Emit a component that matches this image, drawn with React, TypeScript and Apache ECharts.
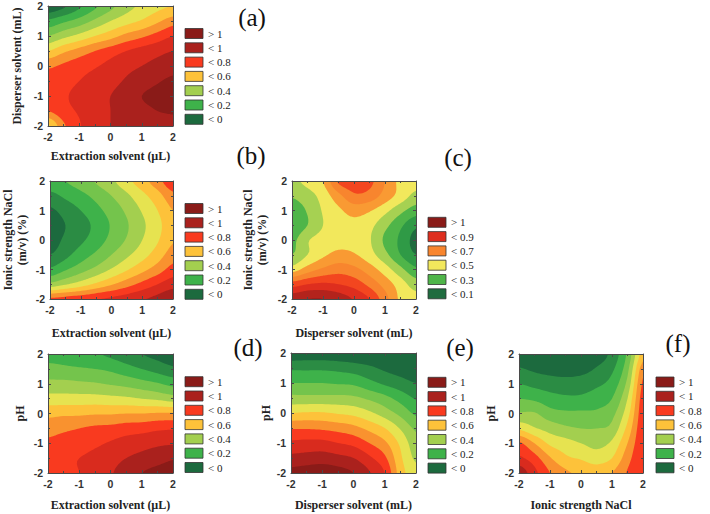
import React, { useEffect, useRef } from "react";
import * as echarts from "echarts";

// grid node coordinates (both axes), coded units
const GRID_COORDS = [-2, -1.5, -1, -0.5, 0, 0.5, 1, 1.5, 2];
// contour levels (band k>=1 is the region where value >= LEVELS[k-1])
const LEVELS = [0, 0.1, 0.2, 0.3, 0.4, 0.5, 0.6, 0.7, 0.8, 0.9, 1.0];

// Response values. Rows: y = 2 (top) ... y = -2 (bottom); columns: x = -2 ... 2
const Z_A = [
  [-0.08, -0.02, 0.08, 0.18, 0.27, 0.36, 0.42, 0.47, 0.5],
  [0.12, 0.18, 0.24, 0.32, 0.4, 0.46, 0.51, 0.58, 0.65],
  [0.3, 0.37, 0.43, 0.5, 0.56, 0.63, 0.68, 0.74, 0.8],
  [0.5, 0.58, 0.64, 0.7, 0.75, 0.8, 0.84, 0.87, 0.9],
  [0.68, 0.72, 0.76, 0.79, 0.83, 0.87, 0.9, 0.93, 0.96],
  [0.74, 0.77, 0.8, 0.83, 0.87, 0.91, 0.95, 0.99, 1.02],
  [0.75, 0.79, 0.82, 0.86, 0.9, 0.94, 1.0, 1.03, 1.05],
  [0.7, 0.77, 0.81, 0.85, 0.9, 0.93, 0.97, 1.0, 1.01],
  [0.48, 0.68, 0.79, 0.85, 0.9, 0.93, 0.95, 0.96, 0.97],
];
const Z_B = [
  [0.16, 0.2, 0.25, 0.31, 0.38, 0.47, 0.56, 0.66, 0.78],
  [0.07, 0.12, 0.17, 0.23, 0.3, 0.38, 0.47, 0.56, 0.67],
  [-0.02, 0.04, 0.1, 0.17, 0.24, 0.32, 0.41, 0.5, 0.6],
  [-0.07, 0.0, 0.05, 0.13, 0.21, 0.29, 0.38, 0.47, 0.57],
  [-0.05, 0.02, 0.08, 0.15, 0.23, 0.31, 0.4, 0.49, 0.59],
  [0.0, 0.07, 0.15, 0.22, 0.3, 0.38, 0.46, 0.55, 0.65],
  [0.12, 0.19, 0.26, 0.33, 0.41, 0.49, 0.57, 0.65, 0.74],
  [0.33, 0.39, 0.45, 0.52, 0.59, 0.66, 0.73, 0.8, 0.86],
  [0.72, 0.74, 0.76, 0.79, 0.82, 0.85, 0.89, 0.93, 0.98],
];
const Z_C = [
  [0.38, 0.43, 0.5, 0.72, 0.76, 0.73, 0.6, 0.47, 0.44],
  [0.31, 0.36, 0.44, 0.57, 0.68, 0.66, 0.56, 0.46, 0.37],
  [0.24, 0.31, 0.41, 0.48, 0.54, 0.51, 0.43, 0.33, 0.25],
  [0.22, 0.3, 0.4, 0.45, 0.47, 0.43, 0.33, 0.22, 0.12],
  [0.27, 0.39, 0.44, 0.46, 0.46, 0.41, 0.28, 0.18, 0.06],
  [0.3, 0.4, 0.48, 0.53, 0.51, 0.44, 0.33, 0.2, 0.1],
  [0.45, 0.55, 0.62, 0.66, 0.63, 0.55, 0.45, 0.33, 0.22],
  [0.75, 0.8, 0.82, 0.8, 0.76, 0.67, 0.56, 0.45, 0.35],
  [0.96, 1.0, 1.0, 0.96, 0.89, 0.8, 0.64, 0.48, 0.44],
];
const Z_D = [
  [0.17, 0.16, 0.14, 0.11, 0.08, 0.04, 0.0, -0.03, -0.06],
  [0.23, 0.22, 0.21, 0.2, 0.18, 0.14, 0.1, 0.06, 0.02],
  [0.33, 0.33, 0.32, 0.31, 0.29, 0.27, 0.24, 0.21, 0.17],
  [0.44, 0.44, 0.44, 0.44, 0.43, 0.42, 0.4, 0.38, 0.35],
  [0.57, 0.58, 0.58, 0.59, 0.59, 0.6, 0.6, 0.61, 0.61],
  [0.66, 0.68, 0.7, 0.72, 0.73, 0.75, 0.76, 0.78, 0.79],
  [0.72, 0.74, 0.75, 0.78, 0.81, 0.84, 0.86, 0.88, 0.89],
  [0.76, 0.78, 0.8, 0.83, 0.86, 0.9, 0.93, 0.96, 0.99],
  [0.77, 0.79, 0.8, 0.85, 0.89, 0.95, 1.0, 1.03, 1.05],
];
const Z_E = [
  [-0.07, -0.06, -0.06, -0.07, -0.08, -0.09, -0.1, -0.13, -0.16],
  [0.08, 0.08, 0.08, 0.07, 0.05, 0.02, -0.02, -0.05, -0.08],
  [0.2, 0.2, 0.2, 0.19, 0.18, 0.13, 0.08, 0.04, 0.0],
  [0.33, 0.33, 0.33, 0.33, 0.32, 0.28, 0.23, 0.16, 0.09],
  [0.5, 0.51, 0.51, 0.49, 0.47, 0.42, 0.35, 0.27, 0.18],
  [0.69, 0.69, 0.68, 0.66, 0.63, 0.57, 0.5, 0.39, 0.28],
  [0.82, 0.83, 0.83, 0.8, 0.77, 0.7, 0.62, 0.48, 0.34],
  [0.93, 0.94, 0.95, 0.93, 0.9, 0.82, 0.72, 0.52, 0.38],
  [1.03, 1.05, 1.06, 1.04, 1.0, 0.91, 0.8, 0.55, 0.44],
];
const Z_F = [
  [-0.08, -0.1, -0.12, -0.13, -0.12, -0.06, 0.03, 0.22, 0.55],
  [0.01, -0.02, -0.04, -0.05, -0.04, 0.01, 0.08, 0.27, 0.66],
  [0.1, 0.07, 0.05, 0.04, 0.05, 0.08, 0.14, 0.33, 0.72],
  [0.2, 0.18, 0.14, 0.12, 0.12, 0.15, 0.2, 0.4, 0.75],
  [0.31, 0.31, 0.24, 0.22, 0.22, 0.22, 0.27, 0.46, 0.77],
  [0.48, 0.41, 0.36, 0.32, 0.3, 0.3, 0.33, 0.53, 0.78],
  [0.72, 0.6, 0.48, 0.44, 0.4, 0.37, 0.42, 0.6, 0.79],
  [0.82, 0.74, 0.61, 0.52, 0.49, 0.45, 0.5, 0.66, 0.8],
  [0.97, 0.83, 0.7, 0.62, 0.58, 0.56, 0.6, 0.71, 0.8],
];

// legends
const LEGEND_STD = ["> 1", "< 1", "< 0.8", "< 0.6", "< 0.4", "< 0.2", "< 0"];
const LEGEND_STD_BANDS = [11, 10, 8, 6, 4, 2, 0];
const LEGEND_C = ["> 1", "< 0.9", "< 0.7", "< 0.5", "< 0.3", "< 0.1"];
const LEGEND_C_BANDS = [11, 9, 7, 5, 3, 1];

// band colours: <0, 0-0.1, ..., 0.9-1, >1
const COLORS_STD = ["#1c6a3e", "#2b8c44", "#3eb24a", "#74c44c", "#a3cf4f", "#e6e350", "#fdc23a", "#f9922f", "#f93a1f", "#d92b1e", "#aa211d", "#8a1b18"];
const COLORS_C = ["#1c6a3e", "#1f6c3f", "#2f9a46", "#4fb549", "#a6d152", "#f2e85c", "#f99a33", "#f8852e", "#f3461f", "#de2e1e", "#b3231c", "#8a1b18"];

const AXIS_X = ["Extraction solvent (µL)", "Extraction solvent (µL)", "Disperser solvent (mL)", "Extraction solvent (µL)", "Disperser solvent (mL)", "Ionic strength NaCl"];
const AXIS_Y = ["Disperser solvent (mL)", "Ionic strength NaCl\n(m/v) (%)", "Ionic strength NaCl\n(m/v) (%)", "pH", "pH", "pH"];
const LETTERS = ["(a)", "(b)", "(c)", "(d)", "(e)", "(f)"];

const PANELS = [
  { z: Z_A, colors: COLORS_STD, legend: LEGEND_STD, bands: LEGEND_STD_BANDS, grid: { left: 48, top: 6, width: 125, height: 120 }, xGap: 23, yGap: 24, lx: 185, ly: 28.5, tx: 252, ty: 17 },
  { z: Z_B, colors: COLORS_STD, legend: LEGEND_STD, bands: LEGEND_STD_BANDS, grid: { left: 48, top: 181, width: 125, height: 118 }, xGap: 27, yGap: 21, lx: 185, ly: 203.5, tx: 251, ty: 155 },
  { z: Z_C, colors: COLORS_C, legend: LEGEND_C, bands: LEGEND_C_BANDS, grid: { left: 292, top: 181, width: 124, height: 118 }, xGap: 27, yGap: 23, lx: 428, ly: 217.3, tx: 458, ty: 157 },
  { z: Z_D, colors: COLORS_STD, legend: LEGEND_STD, bands: LEGEND_STD_BANDS, grid: { left: 48, top: 354, width: 125, height: 119 }, xGap: 25, yGap: 21, lx: 185, ly: 376.7, tx: 248, ty: 347 },
  { z: Z_E, colors: COLORS_STD, legend: LEGEND_STD, bands: LEGEND_STD_BANDS, grid: { left: 291, top: 353, width: 125, height: 120 }, xGap: 25, yGap: 17, lx: 428, ly: 377.3, tx: 460, ty: 347 },
  { z: Z_F, colors: COLORS_STD, legend: LEGEND_STD, bands: LEGEND_STD_BANDS, grid: { left: 519, top: 354, width: 124, height: 119 }, xGap: 25, yGap: 21, lx: 656, ly: 377, tx: 678, ty: 343 },
];

function refine(z: number[][], S: number): number[][] {
  const n = z.length;
  const at = (r: number, c: number) => z[Math.max(0, Math.min(n - 1, r))][Math.max(0, Math.min(n - 1, c))];
  const cr = (p0: number, p1: number, p2: number, p3: number, t: number) =>
    0.5 * (2 * p1 + (-p0 + p2) * t + (2 * p0 - 5 * p1 + 4 * p2 - p3) * t * t + (-p0 + 3 * p1 - 3 * p2 + p3) * t * t * t);
  const N = (n - 1) * S + 1;
  const F: number[][] = [];
  for (let b = 0; b < N; b++) {
    const w = b / S;
    const r = Math.min(n - 2, Math.floor(w));
    const tr = w - r;
    const row: number[] = [];
    for (let a = 0; a < N; a++) {
      const u = a / S;
      const c = Math.min(n - 2, Math.floor(u));
      const tc = u - c;
      const v = [-1, 0, 1, 2].map((dr) => cr(at(r + dr, c - 1), at(r + dr, c), at(r + dr, c + 1), at(r + dr, c + 2), tc));
      row.push(cr(v[0], v[1], v[2], v[3], tr));
    }
    F.push(row);
  }
  return F;
}

function makeRenderItem(z: number[][], colors: string[]) {
  const S = 5;
  const F = refine(z, S);
  const N = F.length;
  const n = GRID_COORDS.length;
  return (params: any, api: any) => {
    const k = params.dataIndex;
    const p0 = api.coord([GRID_COORDS[0], GRID_COORDS[n - 1]]);
    const p1 = api.coord([GRID_COORDS[n - 1], GRID_COORDS[0]]);
    const X = (a: number) => (p0[0] + ((p1[0] - p0[0]) * a) / (N - 1)).toFixed(2);
    const Y = (b: number) => (p0[1] + ((p1[1] - p0[1]) * b) / (N - 1)).toFixed(2);
    let d = "";
    if (k === 0) {
      d = `M${X(0)} ${Y(0)}L${X(N - 1)} ${Y(0)}L${X(N - 1)} ${Y(N - 1)}L${X(0)} ${Y(N - 1)}Z`;
    } else {
      const L = LEVELS[k - 1];
      for (let b = 0; b < N - 1; b++) {
        let run = -1;
        for (let a = 0; a < N; a++) {
          const full = a < N - 1 && F[b][a] >= L && F[b][a + 1] >= L && F[b + 1][a + 1] >= L && F[b + 1][a] >= L;
          if (full) {
            if (run < 0) run = a;
            continue;
          }
          if (run >= 0) {
            d += `M${X(run)} ${Y(b)}L${X(a)} ${Y(b)}L${X(a)} ${Y(b + 1)}L${X(run)} ${Y(b + 1)}Z`;
            run = -1;
          }
          if (a >= N - 1) break;
          const P = [[a, b, F[b][a]], [a + 1, b, F[b][a + 1]], [a + 1, b + 1, F[b + 1][a + 1]], [a, b + 1, F[b + 1][a]]];
          if (P.every((p) => p[2] < L)) continue;
          for (const tri of [[0, 1, 2], [0, 2, 3]]) {
            const pts = tri.map((i) => P[i]);
            const out: number[][] = [];
            for (let i = 0; i < 3; i++) {
              const A = pts[i];
              const B = pts[(i + 1) % 3];
              const ain = A[2] >= L;
              const bin = B[2] >= L;
              if (ain) out.push(A);
              if (ain !== bin) {
                const t = (L - A[2]) / (B[2] - A[2]);
                out.push([A[0] + (B[0] - A[0]) * t, A[1] + (B[1] - A[1]) * t, L]);
              }
            }
            if (out.length >= 3) {
              d += "M" + out.map((p) => `${X(p[0])} ${Y(p[1])}`).join("L") + "Z";
            }
          }
        }
      }
    }
    if (!d) return { type: "group", children: [] };
    return { type: "path", shape: { pathData: d }, style: { fill: colors[k] }, silent: true };
  };
}

const FRAME = "#4a4a4a";
const tickLabel = { fontSize: 10.5, fontWeight: "bold" as const, color: "#333", fontFamily: "Liberation Sans" };
const nameStyle = { fontSize: 12, fontWeight: "bold" as const, color: "#222", fontFamily: "Liberation Serif", lineHeight: 14 };

export default function App() {
  const ref = useRef<HTMLDivElement>(null);
  useEffect(() => {
    if (!ref.current) return;
    const chart = echarts.init(ref.current, null, { renderer: "svg" });
    const grid: any[] = [];
    const xAxis: any[] = [];
    const yAxis: any[] = [];
    const series: any[] = [];
    const graphic: any[] = [];
    PANELS.forEach((p, i) => {
      grid.push({ ...p.grid });
      const common = {
        gridIndex: i,
        type: "value",
        min: GRID_COORDS[0],
        max: GRID_COORDS[GRID_COORDS.length - 1],
        interval: 1,
        z: 10,
        splitLine: { show: false },
        axisLine: { show: true, onZero: false, lineStyle: { color: FRAME, width: 1 } },
        axisTick: { show: true, inside: true, length: 3, lineStyle: { color: FRAME } },
        minorTick: { show: true, splitNumber: 2, length: 2, lineStyle: { color: FRAME } },
      };
      xAxis.push({
        ...common,
        position: "bottom",
        name: AXIS_X[i],
        nameLocation: "middle",
        nameGap: p.xGap,
        nameTextStyle: nameStyle,
        axisLabel: { ...tickLabel, margin: 5 },
      });
      xAxis.push({ ...common, position: "top", axisLabel: { show: false } });
      yAxis.push({
        ...common,
        position: "left",
        name: AXIS_Y[i],
        nameLocation: "middle",
        nameRotate: 90,
        nameGap: p.yGap,
        nameTextStyle: nameStyle,
        axisLabel: { ...tickLabel, margin: 5 },
      });
      yAxis.push({ ...common, position: "right", axisLabel: { show: false } });
      series.push({
        type: "custom",
        coordinateSystem: "cartesian2d",
        xAxisIndex: 2 * i,
        yAxisIndex: 2 * i,
        data: p.colors.map((_, k) => [0, 0, k]),
        renderItem: makeRenderItem(p.z, p.colors),
        silent: true,
      });
      p.legend.forEach((label, j) => {
        const y = p.ly + j * 14.3;
        graphic.push({
          type: "rect",
          shape: { x: p.lx, y, width: 18, height: 10 },
          style: { fill: p.colors[p.bands[j]], stroke: "#333", lineWidth: 0.8 },
          z: 20,
        });
        graphic.push({
          type: "text",
          x: p.lx + 23,
          y: y + 5,
          style: { text: label, font: '11px "Liberation Serif"', fill: "#222", verticalAlign: "middle", align: "left" },
          z: 20,
        });
      });
      graphic.push({
        type: "text",
        x: p.tx,
        y: p.ty,
        style: { text: LETTERS[i], font: '25px "Liberation Serif"', fill: "#111", verticalAlign: "middle", align: "center" },
        z: 20,
      });
    });
    chart.setOption({
      animation: false,
      backgroundColor: "#ffffff",
      textStyle: { fontFamily: "Liberation Serif" },
      grid,
      xAxis,
      yAxis,
      series,
      graphic,
    });
    return () => chart.dispose();
  }, []);
  return <div ref={ref} style={{ position: "absolute", left: 0, top: 0, width: 710, height: 514 }} />;
}
